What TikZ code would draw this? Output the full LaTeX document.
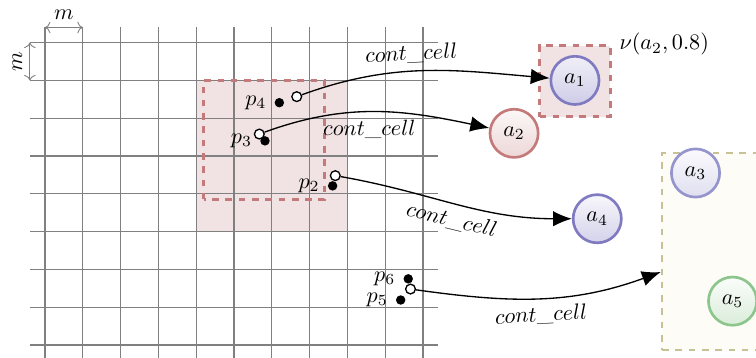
\documentclass[tikz,border=0pt]{standalone}
\usepackage{tikz}
\usetikzlibrary{arrows.meta}
\definecolor{cellred}{RGB}{196,122,122}
\definecolor{cellpink}{RGB}{241,227,228}
\definecolor{agblue}{RGB}{128,122,192}
\definecolor{agbluelt}{RGB}{150,148,204}
\definecolor{aggreen}{RGB}{140,198,140}
\definecolor{grpolive}{RGB}{198,194,150}
\definecolor{grpfill}{RGB}{253,252,247}

\begin{document}
\begin{tikzpicture}[x=0.6cm, y=0.6cm,
    agent/.style={circle, line width=1.2pt, minimum size=0.765cm, inner sep=0pt},
    pt/.style={circle, fill=black, inner sep=0pt, minimum size=1.5mm},
    ptopen/.style={circle, draw=black, fill=white, line width=0.6pt, inner sep=0pt, minimum size=1.55mm},
    flow/.style={black, line width=0.6pt, -{Latex[length=8.5pt,width=7pt]}}]
        \useasboundingbox (-1.19,-0.344) rectangle (18.81,9.127);
        \clip (-1.19,-0.344) rectangle (18.81,9.127);

        %%-grid
        \fill[cellpink] (4,3) rectangle (8,7);
        \foreach \x in {0,...,10} \draw[gray, line width=0.5pt] (\x,-0.4) -- (\x,8.4);
        \foreach \y in {0,...,8} \draw[gray, line width=0.5pt] (-0.4,\y) -- (10.4,\y);
        \draw[gray, line width=0.4pt, <->] (0,8.4) -- (1,8.4) node[black, above, pos=.5] {$m$};
        \draw[gray, line width=0.4pt, <->] (-0.4,7) -- (-0.4,8) node[black, above, sloped, pos=.5] {$m$};
        \draw[cellred, line width=1.2pt, dashed] (4.2,3.85) rectangle (7.4,7.0);

        %%-points
        \node[pt, label=left:$p_4$] (p4) at (6.2,6.41) {};
        \node[ptopen] (q4) at (6.66,6.57) {};
        \node[pt, label=left:$p_3$] (p3) at (5.82,5.40) {};
        \node[ptopen] (q3) at (5.67,5.58) {};
        \node[pt, label=left:$p_2$] (p2) at (7.61,4.21) {};
        \node[ptopen] (q2) at (7.68,4.48) {};
        \node[pt, label=left:$p_6$] (p6) at (9.61,1.75) {};
        \node[pt, label=left:$p_5$] (p5) at (9.41,1.19) {};
        \node[ptopen] (q56) at (9.67,1.48) {};

        %% agents
        \node[draw=cellred, dashed, line width=1.2pt, fill=cellpink, minimum size=1.125cm] (nu) at (14.02,6.98) {};
        \node[anchor=west] (nulab) at (nu.north east) {$\nu(a_2,0.8)$};
        \node[draw=grpolive, dashed, line width=1.2pt, fill=grpfill, minimum width=1.95cm, minimum height=3.126cm, anchor=north west] (grp) at (16.29,5.11) {};
        \coordinate (grpin) at (16.29,1.93);

        \node[agent, draw=agblue, top color=agblue!12!white, bottom color=agblue!38!white] (a1) at (14.02,7.0) {$a_1$};
        \node[agent, draw=cellred, top color=cellred!6!white, bottom color=cellred!30!white] (a2) at (12.41,5.60) {$a_2$};
        \node[agent, draw=agbluelt, top color=agbluelt!4!white, bottom color=agbluelt!30!white] (a3) at (17.21,4.55) {$a_3$};
        \node[agent, draw=agblue, top color=agblue!6!white, bottom color=agblue!34!white] (a4) at (14.61,3.34) {$a_4$};
        \node[agent, draw=aggreen, top color=aggreen!4!white, bottom color=aggreen!32!white] (a5) at (18.19,1.16) {$a_5$};

        %% cont_cell links
        \draw[flow] (q4) to[out=20, in=175] node[above, sloped, pos=.45] {$cont\_cell$} (a1);
        \draw[flow] (q3) to[out=20, in=168] node[below, pos=.47] {$cont\_cell$} (a2);
        \draw[flow] (q2) to[out=-10, in=180] node[below, sloped, pos=.5] {$cont\_cell$} (a4);
        \draw[flow] (q56) to[out=-8, in=200] node[below, sloped, pos=.5] {$cont\_cell$} (grpin);
\end{tikzpicture}
\end{document}
